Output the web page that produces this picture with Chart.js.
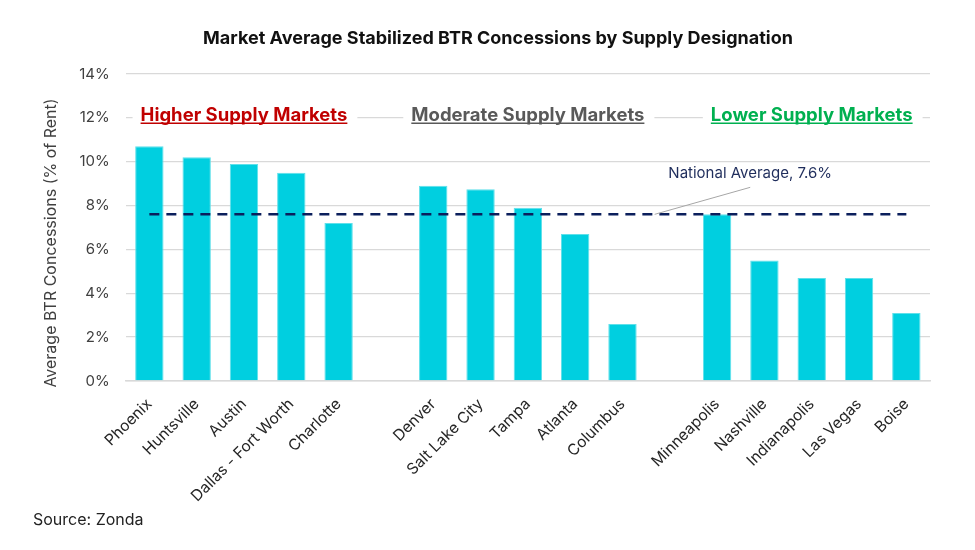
<!DOCTYPE html>
<html>
<head>
<meta charset="utf-8">
<script src="https://cdn.jsdelivr.net/npm/chart.js@4"></script>
<style>
  html, body { margin: 0; padding: 0; background: #fff; }
  #wrap { width: 975px; height: 550px; }
</style>
</head>
<body>
<div id="wrap"><canvas id="c" width="975" height="550"></canvas></div>
<script>
const categories = ['Phoenix','Huntsville','Austin','Dallas - Fort Worth','Charlotte','',
  'Denver','Salt Lake City','Tampa','Atlanta','Columbus','',
  'Minneapolis','Nashville','Indianapolis','Las Vegas','Boise'];
const concessions = [10.7,10.2,9.9,9.5,7.2,null,8.9,8.75,7.9,6.7,2.6,null,7.6,5.5,4.7,4.7,3.1];
const nationalAverage = 7.6;
const nationalLine = categories.map(() => nationalAverage);
const yTickValues = [0,2,4,6,8,10,12,14];
const groupNames = ['Higher Supply Markets','Moderate Supply Markets','Lower Supply Markets'];
const groupMiddleIndex = [2, 8, 14];
const groupColors = ['#C00000','#595959','#00B050'];

const FONT = 'Inter, "Noto Sans", sans-serif';

const overlay = {
  id: 'overlay',
  afterDraw(chart) {
    const ctx = chart.ctx;
    const x = chart.scales.x, y = chart.scales.y;
    ctx.save();
    // Title
    ctx.fillStyle = '#111111';
    ctx.font = 'bold 18px ' + FONT;
    ctx.textAlign = 'center';
    ctx.textBaseline = 'middle';
    ctx.fillText('Market Average Stabilized BTR Concessions by Supply Designation', 498, 39);

    // Group headers
    const hy = y.getPixelForValue(12) + 1;
    ctx.font = 'bold 18.5px ' + FONT;
    ctx.textBaseline = 'alphabetic';
    groupNames.forEach((name, i) => {
      const cx = x.getPixelForValue(groupMiddleIndex[i]);
      const w = ctx.measureText(name).width;
      ctx.fillStyle = '#ffffff';
      ctx.fillRect(cx - w/2 - 8, hy - 17, w + 18, 26);
      ctx.fillStyle = groupColors[i];
      ctx.textAlign = 'center';
      ctx.fillText(name, cx, hy + 2);
      ctx.strokeStyle = groupColors[i];
      ctx.lineWidth = 1.5;
      ctx.beginPath();
      ctx.moveTo(cx - w/2, hy + 4.5);
      ctx.lineTo(cx + w/2, hy + 4.5);
      ctx.stroke();
    });

    // National average label with leader
    const step = x.getPixelForValue(1) - x.getPixelForValue(0);
    const ly = y.getPixelForValue(nationalAverage);
    const lx = x.getPixelForValue(10) + 0.68 * step;
    const tx = x.getPixelForValue(12) + 0.7 * step;
    ctx.strokeStyle = '#A6A6A6';
    ctx.lineWidth = 1;
    ctx.beginPath();
    ctx.moveTo(lx, ly);
    ctx.lineTo(tx, ly - 27);
    ctx.stroke();
    ctx.fillStyle = '#1F2D5C';
    ctx.font = '15px ' + FONT;
    ctx.textAlign = 'center';
    ctx.textBaseline = 'middle';
    ctx.fillText('National Average, ' + nationalAverage + '%', tx, ly - 41);

    // Y axis title
    ctx.save();
    ctx.translate(51, 243);
    ctx.rotate(-Math.PI/2);
    ctx.fillStyle = '#404040';
    ctx.font = '16px ' + FONT;
    ctx.textAlign = 'center';
    ctx.textBaseline = 'middle';
    ctx.fillText('Average BTR Concessions (% of Rent)', 0, 0);
    ctx.restore();

    // Source
    ctx.fillStyle = '#222222';
    ctx.font = '16px ' + FONT;
    ctx.textAlign = 'left';
    ctx.textBaseline = 'middle';
    ctx.fillText('Source: Zonda', 33, 520);
    ctx.restore();
  }
};

new Chart(document.getElementById('c'), {
  data: {
    labels: categories,
    datasets: [
      {
        type: 'line',
        data: nationalLine,
        borderColor: '#0B1F5C',
        borderWidth: 2.5,
        borderDash: [10, 7],
        pointRadius: 0,
        fill: false,
        order: 0
      },
      {
        type: 'bar',
        data: concessions,
        backgroundColor: '#00CFE0',
        borderColor: '#5FE0EA',
        borderWidth: 1,
        categoryPercentage: 1,
        barPercentage: 0.6,
        order: 1
      }
    ]
  },
  options: {
    responsive: false,
    animation: false,
    devicePixelRatio: 1,
    layout: { padding: { top: 74, right: 45, left: 10, bottom: 0 } },
    plugins: { legend: { display: false }, tooltip: { enabled: false }, title: { display: false } },
    scales: {
      x: {
        type: 'category',
        grid: { display: false },
        border: { display: true, color: '#D9D9D9', width: 1.5 },
        ticks: {
          color: '#262626',
          font: { family: FONT, size: 15.5 },
          minRotation: 45, maxRotation: 45,
          autoSkip: false,
          padding: 6
        },
        afterFit(scale) { scale.height = 169; }
      },
      y: {
        min: 0, max: 14,
        afterBuildTicks(scale) { scale.ticks = yTickValues.map(v => ({ value: v })); },
        grid: { color: '#D9D9D9', lineWidth: 1.3, drawTicks: false },
        border: { display: false },
        ticks: {
          color: '#404040',
          font: { family: FONT, size: 15 },
          padding: 16,
          callback: v => v + '%'
        },
        afterFit(scale) { scale.width = 115.7; }
      }
    }
  },
  plugins: [overlay]
});
</script>
</body>
</html>
